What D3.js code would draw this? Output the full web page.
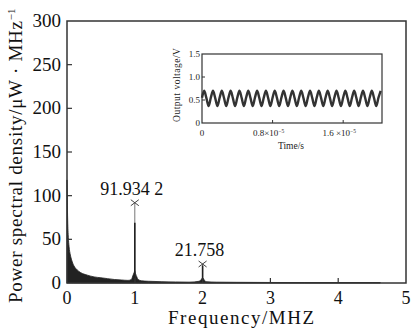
<!DOCTYPE html>
<html>
<head>
<meta charset="utf-8">
<script src="https://cdn.jsdelivr.net/npm/d3@7/dist/d3.min.js"></script>
<style>
  body { margin: 0; background: #fff; }
  svg { display: block; font-family: "Liberation Serif", "Times New Roman", serif; }
</style>
</head>
<body>
<svg id="chart" width="413" height="328"></svg>
<script>
// spectrum (MHz -> µW/MHz)
const freqs = [0, 0.004, 0.01, 0.02, 0.03, 0.05, 0.07, 0.1, 0.15, 0.2, 0.3, 0.4, 0.5, 0.6, 0.7, 0.8, 0.9,
  0.95, 0.97, 0.99, 1.0, 1.01, 1.03, 1.05, 1.1, 1.2, 1.4, 1.6, 1.8, 1.95, 1.98, 2.0, 2.02, 2.05, 2.2,
  2.5, 3.0, 3.5, 4.0, 4.5, 4.62];
const psd = [118, 96, 72, 52, 42, 32, 26, 20, 15, 12, 9, 7, 6, 5, 4, 3.5, 3,
  4, 8, 12, 14, 11, 7, 4, 2.5, 2, 1.5, 1.2, 1, 2, 4, 6, 4, 1.5, 1,
  0.8, 0.6, 0.5, 0.5, 0.5, 0.5];
const peakFreqs = [1, 2];
const peakValues = [91.9342, 21.758];
const peakCore = [69, 20];
const peakLabels = ["91.934 2", "21.758"];
const xTicks = [0, 1, 2, 3, 4, 5];
const yTicks = [0, 50, 100, 150, 200, 250, 300];

// inset: output voltage sampled every 0.25 µs
const sampleStep = 0.25e-6;
const voltage = [
  0.55, 0.70, 0.54, 0.37, 0.55, 0.70, 0.54, 0.37, 0.55, 0.70, 0.54, 0.37, 0.55, 0.70, 0.54, 0.37,
  0.55, 0.70, 0.54, 0.37, 0.55, 0.70, 0.54, 0.37, 0.55, 0.70, 0.54, 0.37, 0.55, 0.70, 0.54, 0.37,
  0.55, 0.70, 0.54, 0.37, 0.55, 0.70, 0.54, 0.37, 0.55, 0.70, 0.54, 0.37, 0.55, 0.70, 0.54, 0.37,
  0.55, 0.70, 0.54, 0.37, 0.55, 0.70, 0.54, 0.37, 0.55, 0.70, 0.54, 0.37, 0.55, 0.70, 0.54, 0.37,
  0.55, 0.70, 0.54, 0.37, 0.55, 0.70, 0.54, 0.37, 0.55, 0.70, 0.54, 0.37, 0.55, 0.70, 0.54, 0.37,
  0.55, 0.70];
const insetYTicks = [0, 0.5, 1.0, 1.5];
const insetXTicks = [0, 0.8e-5, 1.6e-5];
const insetXLabels = [["0", ""], ["0.8\u00d710", "\u22125"], ["1.6 \u00d710", "\u22125"]];

const svg = d3.select("#chart");
const frame = { left: 67, top: 21, right: 406, bottom: 283 };

const x = d3.scaleLinear().domain([0, 5]).range([frame.left, frame.right]);
const y = d3.scaleLinear().domain([0, 300]).range([frame.bottom, frame.top]);

// spectrum fill
const area = d3.area()
  .x((d, i) => x(freqs[i]))
  .y0(y(0))
  .y1((d) => y(d))
  .curve(d3.curveMonotoneX);

svg.append("path")
  .datum(psd)
  .attr("d", area)
  .attr("fill", "#222")
  .attr("stroke", "#222")
  .attr("stroke-width", 0.8);

// peaks
const peaks = svg.append("g");
peakFreqs.forEach((f, i) => {
  peaks.append("line")
    .attr("x1", x(f)).attr("x2", x(f))
    .attr("y1", y(0)).attr("y2", y(peakValues[i]))
    .attr("stroke", "#777").attr("stroke-width", 1);
  peaks.append("line")
    .attr("x1", x(f)).attr("x2", x(f))
    .attr("y1", y(0)).attr("y2", y(peakCore[i]))
    .attr("stroke", "#222").attr("stroke-width", 1.6);
  // x marker
  const px = x(f), py = y(peakValues[i]);
  peaks.append("path")
    .attr("d", `M${px - 4},${py - 3}L${px + 4},${py + 3}M${px - 4},${py + 3}L${px + 4},${py - 3}`)
    .attr("stroke", "#444").attr("stroke-width", 1);
  peaks.append("text")
    .attr("x", px - 3).attr("y", py - 8)
    .attr("text-anchor", "middle")
    .attr("font-size", 18)
    .attr("fill", "#111")
    .text(peakLabels[i]);
});

// frame
svg.append("rect")
  .attr("x", frame.left).attr("y", frame.top)
  .attr("width", frame.right - frame.left).attr("height", frame.bottom - frame.top)
  .attr("fill", "none").attr("stroke", "#333").attr("stroke-width", 1.5);

// x axis
const xAxis = svg.append("g");
xAxis.selectAll("line")
  .data(xTicks.slice(1, -1))
  .join("line")
  .attr("x1", (d) => x(d)).attr("x2", (d) => x(d))
  .attr("y1", y(0)).attr("y2", y(0) - 5)
  .attr("stroke", "#333").attr("stroke-width", 1.2);
xAxis.selectAll("text")
  .data(xTicks)
  .join("text")
  .attr("x", (d) => x(d))
  .attr("y", 304)
  .attr("text-anchor", "middle")
  .attr("font-size", 18)
  .attr("fill", "#111")
  .text((d) => d);

// y axis
const yAxis = svg.append("g");
yAxis.selectAll("line")
  .data(yTicks.slice(1, -1))
  .join("line")
  .attr("x1", frame.left).attr("x2", frame.left + 5)
  .attr("y1", (d) => y(d)).attr("y2", (d) => y(d))
  .attr("stroke", "#333").attr("stroke-width", 1.2);
yAxis.selectAll("text")
  .data(yTicks)
  .join("text")
  .attr("x", 61)
  .attr("y", (d) => y(d) + 6)
  .attr("text-anchor", "end")
  .attr("font-size", 19)
  .attr("fill", "#111")
  .text((d) => d);

// axis titles
svg.append("text")
  .attr("x", 168).attr("y", 324)
  .attr("font-size", 19)
  .attr("textLength", 146)
  .attr("lengthAdjust", "spacing")
  .attr("fill", "#111")
  .text("Frequency/MHZ");

const yTitle = svg.append("text")
  .attr("transform", "translate(22,303) rotate(-90)")
  .attr("font-size", 19)
  .attr("fill", "#111");
yTitle.append("tspan")
  .attr("textLength", 282)
  .attr("lengthAdjust", "spacing")
  .text("Power spectral density/\u03bcW \u00b7 MHz");
yTitle.append("tspan").attr("dy", -7).attr("font-size", 11).text("\u22121");

// inset
const inset = { left: 202, top: 54, right: 382, bottom: 123 };
const ix = d3.scaleLinear().domain([0, 2.04e-5]).range([inset.left, inset.right]);
const iy = d3.scaleLinear().domain([0, 1.5]).range([inset.bottom, inset.top]);

const ig = svg.append("g");
ig.append("rect")
  .attr("x", inset.left).attr("y", inset.top)
  .attr("width", inset.right - inset.left).attr("height", inset.bottom - inset.top)
  .attr("fill", "#fff").attr("stroke", "#333").attr("stroke-width", 1.2);

const wave = d3.line()
  .x((d, i) => ix(i * sampleStep))
  .y((d) => iy(d))
  .curve(d3.curveCardinal);

ig.append("path")
  .datum(voltage)
  .attr("d", wave)
  .attr("fill", "none")
  .attr("stroke", "#333")
  .attr("stroke-width", 2.4);

ig.selectAll(".ytick")
  .data(insetYTicks.slice(1, -1))
  .join("line")
  .attr("class", "ytick")
  .attr("x1", inset.left).attr("x2", inset.left + 3)
  .attr("y1", (d) => iy(d)).attr("y2", (d) => iy(d))
  .attr("stroke", "#333");
ig.selectAll(".ylab")
  .data(insetYTicks)
  .join("text")
  .attr("class", "ylab")
  .attr("x", inset.left - 2)
  .attr("y", (d) => iy(d) + 3)
  .attr("text-anchor", "end")
  .attr("font-size", 9)
  .attr("fill", "#222")
  .text((d) => d === 0 ? "0" : d.toFixed(1));

ig.selectAll(".xtick")
  .data(insetXTicks.slice(1))
  .join("line")
  .attr("class", "xtick")
  .attr("x1", (d) => ix(d)).attr("x2", (d) => ix(d))
  .attr("y1", inset.bottom).attr("y2", inset.bottom - 3)
  .attr("stroke", "#333");
insetXTicks.forEach((d, i) => {
  const t = ig.append("text")
    .attr("x", ix(d) - (i === 0 ? 0 : 4))
    .attr("y", 136)
    .attr("text-anchor", "middle")
    .attr("font-size", 9)
    .attr("fill", "#222");
  t.append("tspan").text(insetXLabels[i][0]);
  if (insetXLabels[i][1]) t.append("tspan").attr("dy", -3).attr("font-size", 5.5).text(insetXLabels[i][1]);
});

ig.append("text")
  .attr("x", 291).attr("y", 149)
  .attr("text-anchor", "middle")
  .attr("font-size", 9.5)
  .attr("fill", "#222")
  .text("Time/s");

ig.append("text")
  .attr("transform", "translate(180,122) rotate(-90)")
  .attr("font-size", 9.5)
  .attr("textLength", 74)
  .attr("lengthAdjust", "spacing")
  .attr("fill", "#222")
  .text("Output voltage/V");
</script>
</body>
</html>
